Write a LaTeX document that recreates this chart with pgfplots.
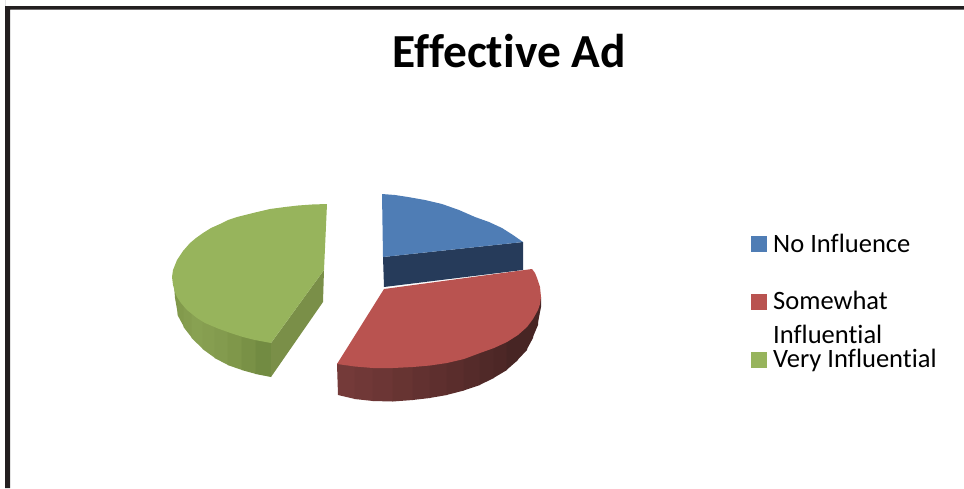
\documentclass[border=0pt]{standalone}
\usepackage{fontspec}
\setmainfont{Carlito}[Ligatures=NoCommon]
\usepackage{pgfplots}
\pgfplotsset{compat=1.18}
\definecolor{framec}{HTML}{231F20}
\definecolor{bluetop}{HTML}{4F7DB5}
\definecolor{blueside}{HTML}{263B5A}
\definecolor{redtop}{HTML}{B95350}
\definecolor{greentop}{HTML}{97B45C}
\definecolor{greencut}{HTML}{7A8F48}
\definecolor{reda}{HTML}{743A39}
\definecolor{redb}{HTML}{5A2D2C}
\definecolor{redc}{HTML}{472524}
\definecolor{greena}{HTML}{7F974A}
\definecolor{greenb}{HTML}{88A152}
\definecolor{greenc}{HTML}{6D863E}
\begin{document}
\begin{tikzpicture}
\useasboundingbox (0,0) rectangle (964pt,488pt);
\begin{axis}[
scale only axis,
width=964pt,
height=488pt,
xmin=0, xmax=964,
ymin=0, ymax=488,
y dir=reverse,
hide axis,
]
% frame
\addplot[fill=framec,draw=none] coordinates {(5,6) (964,6) (964,9.5) (10,9.5) (10,488) (5,488)} \closedcycle;

% green slice, outer side in strips
\addplot[fill=greena,draw=none] coordinates {(174,285) (178,285) (178,315) (175,298)};
\addplot[fill=greena!70!greenb,draw=none] coordinates {(177.5,285) (184,285) (184,327) (177.5,315)};
\addplot[fill=greena!35!greenb,draw=none] coordinates {(183.5,285) (192,285) (192,338) (183.5,327)};
\addplot[fill=greenb,draw=none] coordinates {(191.5,285) (203,285) (203,349) (191.5,338)};
\addplot[fill=greenb!75!greena,draw=none] coordinates {(202.5,285) (215,285) (215,358) (202.5,349)};
\addplot[fill=greenb!45!greena,draw=none] coordinates {(214.5,285) (228,285) (228,365) (214.5,358)};
\addplot[fill=greena,draw=none] coordinates {(227.5,285) (242,285) (242,370) (227.5,365)};
\addplot[fill=greena!65!greenc,draw=none] coordinates {(241.5,285) (256,285) (256,374) (241.5,370)};
\addplot[fill=greena!30!greenc,draw=none] coordinates {(255.5,285) (271,285) (271,377) (255.5,374)};
\addplot[fill=greencut,draw=none] coordinates {(324,270) (323,302) (271,377) (271,343)};
\addplot[fill=greentop,draw=none] coordinates {
(327,204) (324,270) (271,343) (255,340) (243,337) (232,333.5) (218,328.5) (205,323) (197,318) (187,310) (181,303) (177,297) (175,292) (173,285) (172,277)
(173,270) (175,265) (177,260) (183,251) (190,243) (196,238) (203,233) (211,228) (220,224) (228,220) (237,217) (253,213) (270,209) (285,207) (298,205.5) (312,204.5)};

% blue slice
\addplot[fill=blueside,draw=none] coordinates {(383,257) (523,242) (523,270) (384,287)};
\addplot[fill=bluetop,draw=none] coordinates {
(382,194) (395,195) (408,197) (425,200) (442,204) (459,210) (475,217) (489,222) (502,228) (513,235) (523,242) (383,257)};

% red slice, outer side in strips
\addplot[fill=reda,draw=none] coordinates {(337,364) (355,350) (355,399) (338,395)};
\addplot[fill=reda!85!redb,draw=none] coordinates {(354.5,350) (373,320) (373,401) (354.5,399)};
\addplot[fill=reda!70!redb,draw=none] coordinates {(372.5,320) (393,300) (393,401.5) (372.5,401)};
\addplot[fill=reda!50!redb,draw=none] coordinates {(392.5,300) (413,300) (413,400) (392.5,401.5)};
\addplot[fill=reda!30!redb,draw=none] coordinates {(412.5,300) (430,300) (430,398) (412.5,400)};
\addplot[fill=reda!15!redb,draw=none] coordinates {(429.5,300) (447,300) (447,395) (429.5,398)};
\addplot[fill=redb,draw=none] coordinates {(446.5,300) (464,300) (464,390.5) (446.5,395)};
\addplot[fill=redb!75!redc,draw=none] coordinates {(463.5,300) (480,300) (480,385) (463.5,390.5)};
\addplot[fill=redb!50!redc,draw=none] coordinates {(479.5,300) (494,300) (494,378) (479.5,385)};
\addplot[fill=redb!30!redc,draw=none] coordinates {(493.5,300) (507,300) (507,370) (493.5,378)};
\addplot[fill=redc,draw=none] coordinates {(506.5,300) (518,300) (518,360) (506.5,370)};
\addplot[fill=redc,draw=none] coordinates {(517.5,300) (527,300) (527,350) (517.5,360)};
\addplot[fill=redc,draw=none] coordinates {(526.5,300) (533,300) (533,338) (526.5,350)};
\addplot[fill=redc,draw=none] coordinates {(532.5,300) (538,300) (538,325) (532.5,338)};
\addplot[fill=redc,draw=none] coordinates {(537.5,300) (541,297) (541,307) (537.5,325)};
\addplot[fill=redtop,draw=none] coordinates {
(384,289) (532,269) (535,273) (537,278) (540,287) (541,297) (540,304) (538,310) (533,319) (527,327) (518,335) (507,342) (494,348) (480,353) (464,359) (447,363) (430,365.5) (413,367) (393,368) (373,368) (355,366.5) (337,364)};

% legend
\addplot[fill=bluetop,draw=none] coordinates {(751,236) (767,236) (767,252) (751,252)};
\addplot[fill=redtop,draw=none] coordinates {(751,294) (767,294) (767,310) (751,310)};
\addplot[fill=greentop,draw=none] coordinates {(751,352) (767,352) (767,368) (751,368)};
\node[anchor=base west,inner sep=0pt,font=\fontsize{26.5}{26.5}\selectfont,text=black] at (axis cs:773,252) {No Influence};
\node[anchor=base west,inner sep=0pt,font=\fontsize{26.5}{26.5}\selectfont,text=black] at (axis cs:773,309) {Somewhat};
\node[anchor=base west,inner sep=0pt,font=\fontsize{26.5}{26.5}\selectfont,text=black] at (axis cs:773,343) {Influential};
\node[anchor=base west,inner sep=0pt,font=\fontsize{26.5}{26.5}\selectfont,text=black] at (axis cs:773,367) {Very Influential};

% title
\node[anchor=base,inner sep=0pt,font=\fontsize{47.4}{47.4}\selectfont\bfseries,text=black] at (axis cs:509,67) {Effective Ad};
\end{axis}
\end{tikzpicture}
\end{document}
